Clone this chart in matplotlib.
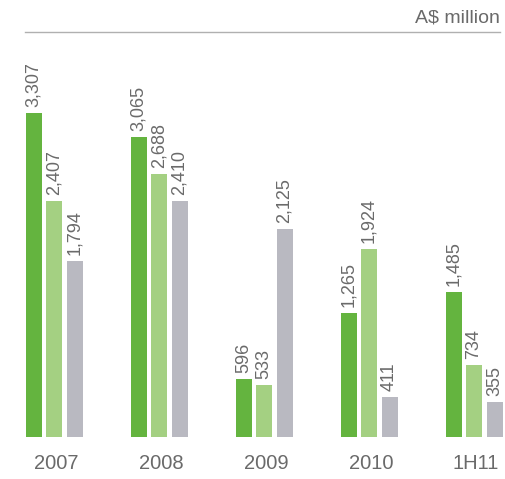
import numpy as np
import matplotlib.pyplot as plt

plt.rcParams['font.family'] = ['Liberation Sans', 'DejaVu Sans']

periods = ['2007', '2008', '2009', '2010', '1H11']
series_a = [3307, 3065, 596, 1265, 1485]
series_b = [2407, 2688, 533, 1924, 734]
series_c = [1794, 2410, 2125, 411, 355]

colors = ['#64b43f', '#a4d082', '#b9b9c1']
text_col = '#6a6a6a'

fig = plt.figure(figsize=(5.05, 4.79), dpi=100)
ax = fig.add_axes([0.0, 0.0877, 1.0, 0.8453])

x = np.arange(len(periods)) * 105 + 54
width = 16
pitch = 20.5

for i, (vals, col) in enumerate(zip([series_a, series_b, series_c], colors)):
    xs = x + (i - 1) * pitch
    ax.bar(xs, vals, width=width, color=col, linewidth=0)
    for xi, v in zip(xs, vals):
        ax.text(xi, v + 60, f'{v:,}', rotation=90, ha='center', va='bottom',
                fontsize=13, color=text_col)

ax.set_xlim(0, 505)
ax.set_ylim(0, 4134)
ax.axis('off')

for xi, lab in zip(x, periods):
    ax.text(xi + 2, -275, lab, ha='center', va='center', fontsize=14.5,
            color=text_col)

# unit line and label at the top
fig.add_artist(plt.Line2D([25 / 505, 500 / 505], [1 - 32 / 479, 1 - 32 / 479],
                          color='#b0b0b0', linewidth=1))
fig.text(500 / 505, 1 - 18 / 479, 'A$ million', ha='right', va='center',
         fontsize=14, color=text_col)

fig.savefig('out.png', dpi=100)
